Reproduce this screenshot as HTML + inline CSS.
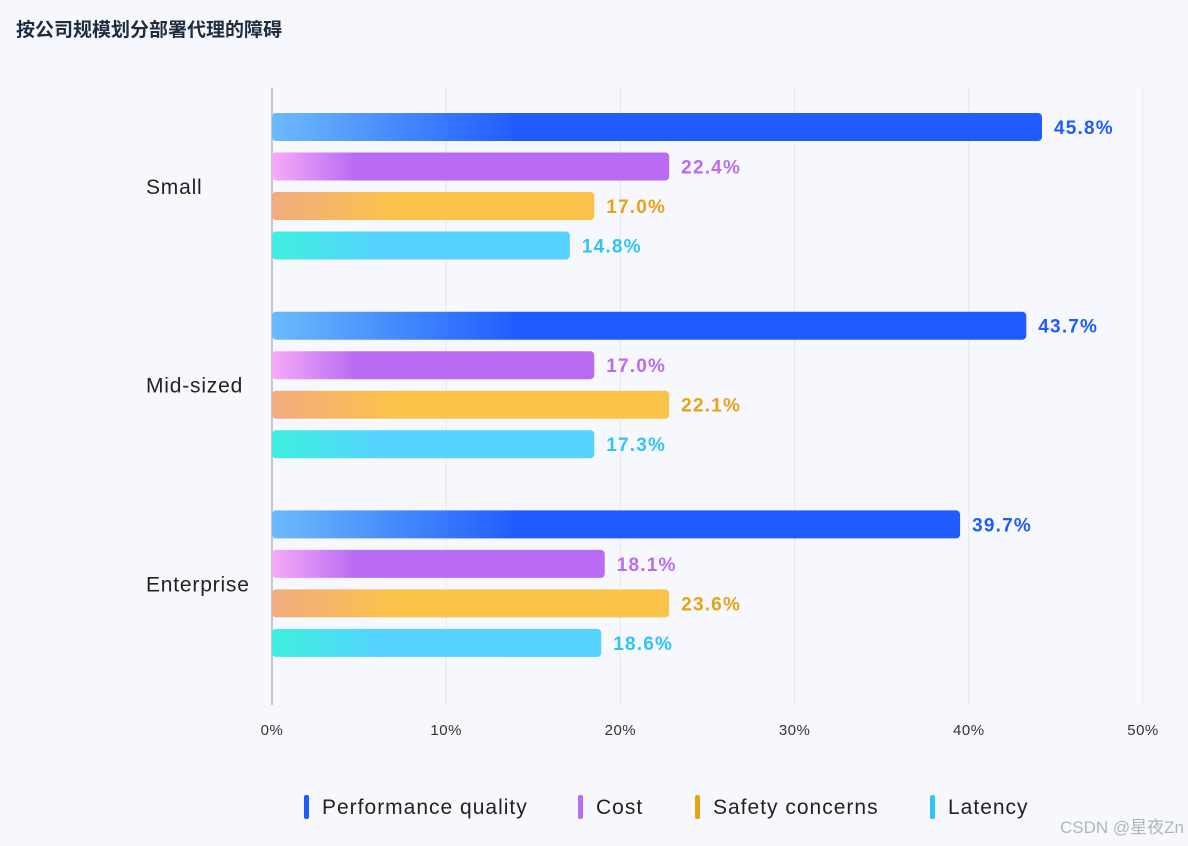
<!DOCTYPE html>
<html><head><meta charset="utf-8">
<style>
body{margin:0;background:#f7f8fd;}
svg{display:block;font-family:"Liberation Sans","Noto Sans CJK SC",sans-serif;}
</style></head>
<body>
<svg width="1188" height="846" viewBox="0 0 1188 846">
<defs>
<linearGradient id="g0" gradientUnits="userSpaceOnUse" x1="272" x2="520" y1="0" y2="0"><stop offset="0" stop-color="#6cbafb"/><stop offset="1" stop-color="#1f5bff"/></linearGradient>
<linearGradient id="g1" gradientUnits="userSpaceOnUse" x1="272" x2="355" y1="0" y2="0"><stop offset="0" stop-color="#f6abf8"/><stop offset="1" stop-color="#b96cf3"/></linearGradient>
<linearGradient id="g2" gradientUnits="userSpaceOnUse" x1="272" x2="392" y1="0" y2="0"><stop offset="0" stop-color="#f2ab80"/><stop offset="1" stop-color="#fac34a"/></linearGradient>
<linearGradient id="g3" gradientUnits="userSpaceOnUse" x1="272" x2="380" y1="0" y2="0"><stop offset="0" stop-color="#3ef0e0"/><stop offset="1" stop-color="#55d2fd"/></linearGradient>
</defs>
<text x="16" y="36" font-size="19" font-weight="bold" fill="#1f2d3d">按公司规模划分部署代理的障碍</text>
<g id="grid"></g>
<g id="bars"></g>
<g id="legend"></g>
<text x="1184" y="833" text-anchor="end" font-size="17" fill="#b0b4bc">CSDN @星夜Zn</text>
</svg>
<script>
const categories = ["Small","Mid-sized","Enterprise"];
const seriesNames = ["Performance quality","Cost","Safety concerns","Latency"];
const perfValues = [44.2,43.3,39.5];
const costValues = [22.8,18.5,19.1];
const safetyValues = [18.5,22.8,22.8];
const latencyValues = [17.1,18.5,18.9];
const perfLabels = ["45.8%","43.7%","39.7%"];
const costLabels = ["22.4%","17.0%","18.1%"];
const safetyLabels = ["17.0%","22.1%","23.6%"];
const latencyLabels = ["14.8%","17.3%","18.6%"];
const tickValues = [0,10,20,30,40,50];
const tickLabels = ["0%","10%","20%","30%","40%","50%"];

const NS="http://www.w3.org/2000/svg";
const x0=272,x50=1143;
const xs=v=>x0+(x50-x0)*v/50;
const series=[perfValues,costValues,safetyValues,latencyValues];
const labels=[perfLabels,costLabels,safetyLabels,latencyLabels];
const colors=["#1f5bff","#b96cf0","#e9a217","#2ec5f5"];
function mk(tag,attrs,parent){const e=document.createElementNS(NS,tag);for(const k in attrs)e.setAttribute(k,attrs[k]);parent.appendChild(e);return e;}
const grid=document.getElementById('grid'),bars=document.getElementById('bars'),leg=document.getElementById('legend');
tickValues.forEach((t,i)=>{
  if(t>0){const l=mk('line',{x1:xs(t),x2:xs(t),y1:88,y2:705,stroke:'#e4e7ee','stroke-width':1},grid);
  
  }
  const tx=mk('text',{x:xs(t),y:735,'text-anchor':'middle','font-size':15,fill:'#333','letter-spacing':0.5},grid);
  tx.textContent=tickLabels[i];
  
  
});
const ax=mk('line',{x1:x0,x2:x0,y1:88,y2:705,stroke:'#c4c8d0','stroke-width':2},grid);


categories.forEach((c,ci)=>{
  const gy=127+ci*198.7;
  const ct=mk('text',{x:146,y:gy+67,'font-size':21,fill:'#222','letter-spacing':0.8},bars);
  ct.textContent=c;
  
  
  series.forEach((s,si)=>{
    const cy=gy+si*39.5;
    const xe=xs(s[ci]);
    const r=mk('rect',{x:x0,y:cy-14,width:xe-x0,height:28,rx:4,fill:'url(#g'+si+')'},bars);
    
    
    const lt=mk('text',{x:xe+12,y:cy+7,'font-size':19,'font-weight':'bold',fill:colors[si],'letter-spacing':1.2},bars);
    lt.textContent=labels[si][ci];
    
    
  });
});
const legX=[304,578,695,930];
seriesNames.forEach((n,i)=>{
  const m=mk('rect',{x:legX[i],y:795,width:5,height:24,rx:2,fill:colors[i]},leg);
  
  
  const t=mk('text',{x:legX[i]+18,y:814,'font-size':21,fill:'#222','letter-spacing':1},leg);
  t.textContent=n;
  
  
});
</script>
</body></html>
